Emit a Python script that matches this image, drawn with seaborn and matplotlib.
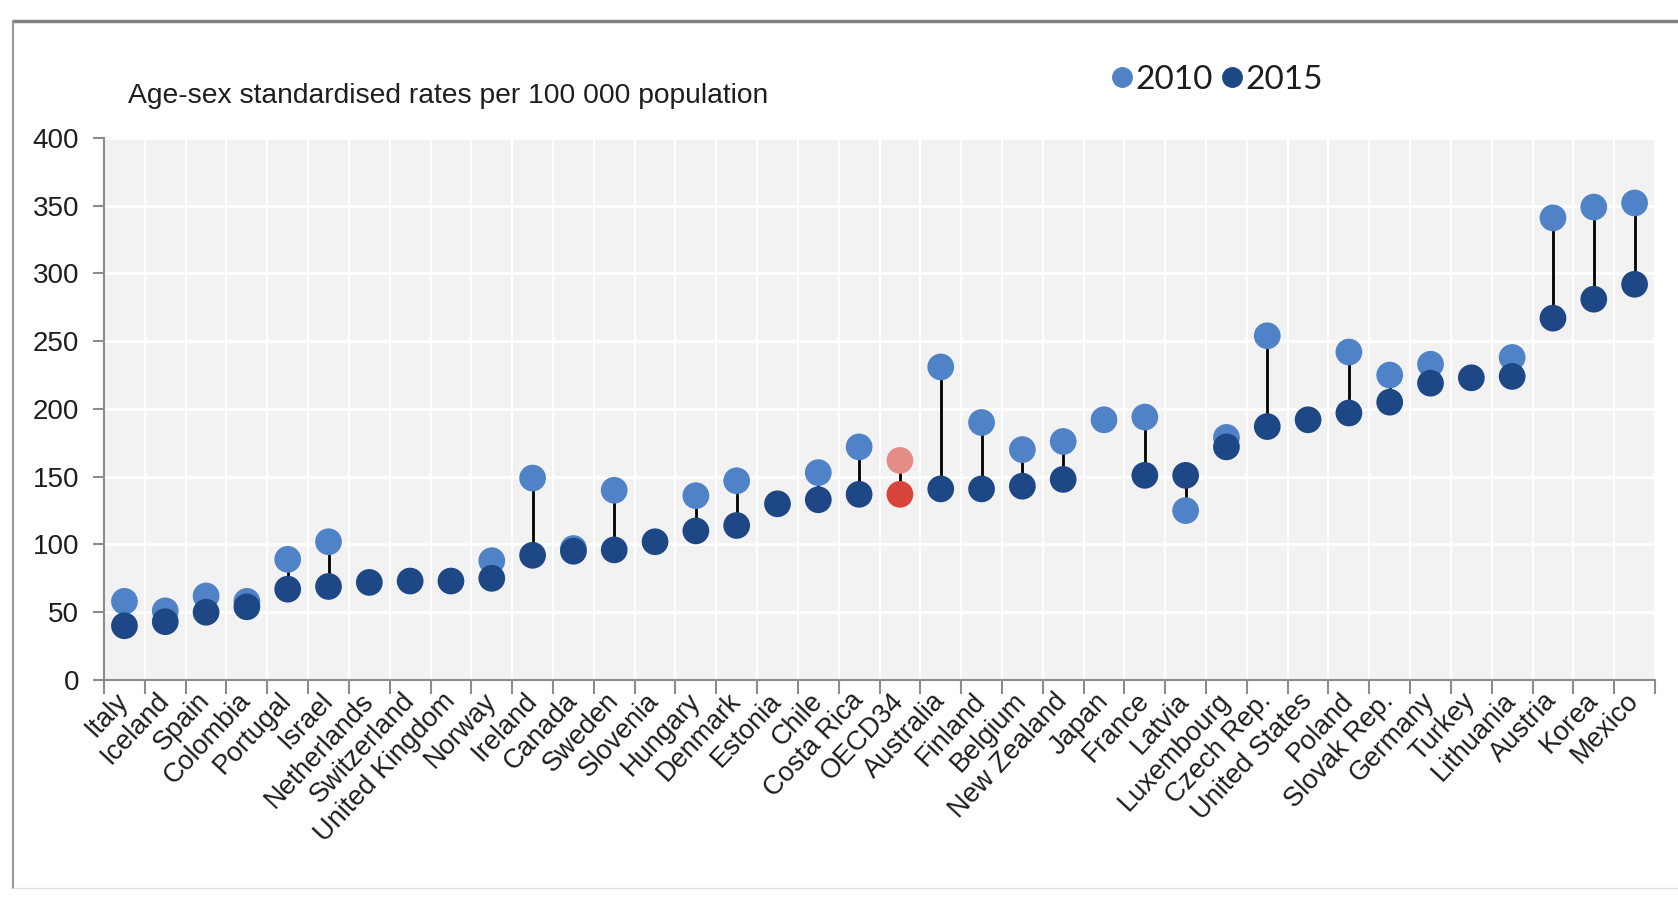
import numpy as np
import pandas as pd
import matplotlib
matplotlib.use("Agg")
import matplotlib.pyplot as plt
from matplotlib.lines import Line2D
import seaborn as sns

# Age-sex standardised rates per 100 000 population, by country
countries = [
    "Italy", "Iceland", "Spain", "Colombia", "Portugal", "Israel", "Netherlands",
    "Switzerland", "United Kingdom", "Norway", "Ireland", "Canada", "Sweden",
    "Slovenia", "Hungary", "Denmark", "Estonia", "Chile", "Costa Rica", "OECD34",
    "Australia", "Finland", "Belgium", "New Zealand", "Japan", "France", "Latvia",
    "Luxembourg", "Czech Rep.", "United States", "Poland", "Slovak Rep.", "Germany",
    "Turkey", "Lithuania", "Austria", "Korea", "Mexico",
]
rate_2010 = [
    58, 51, 62, 58, 89, 102, np.nan,
    np.nan, np.nan, 88, 149, 97, 140,
    np.nan, 136, 147, np.nan, 153, 172, 162,
    231, 190, 170, 176, 192, 194, 125,
    179, 254, np.nan, 242, 225, 233,
    np.nan, 238, 341, 349, 352,
]
rate_2015 = [
    40, 43, 50, 54, 67, 69, 72,
    73, 73, 75, 92, 95, 96,
    102, 110, 114, 130, 133, 137, 137,
    141, 141, 143, 148, np.nan, 151, 151,
    172, 187, 192, 197, 205, 219,
    223, 224, 267, 281, 292,
]
highlight = "OECD34"
y_ticks = [0, 50, 100, 150, 200, 250, 300, 350, 400]
subtitle = "Age-sex standardised rates per 100 000 population"

palette = {
    "2010": "#4f82c6",
    "2015": "#1d4885",
    "OECD 2010": "#e38c88",
    "OECD 2015": "#d8443c",
}

sns.set_theme(style="white")
plt.rcParams["font.family"] = ["Liberation Sans", "DejaVu Sans"]

pos = {c: i for i, c in enumerate(countries)}
df = pd.DataFrame({"country": countries, "2010": rate_2010, "2015": rate_2015})
long = df.melt(id_vars="country", var_name="year", value_name="rate").dropna()
long["pos"] = long["country"].map(pos)
long["group"] = np.where(long["country"] == highlight, "OECD " + long["year"], long["year"])

fig = plt.figure(figsize=(16.78, 8.98), dpi=100)
ax = fig.add_axes([0.062, 0.2428, 0.9243, 0.6036])
ax.set_facecolor("#f2f2f2")

# connectors between the two years
x = np.arange(len(countries))
ax.vlines(x, df["2010"], df["2015"], color="black", lw=2, zorder=2)

for year, z in (("2010", 3), ("2015", 4)):
    sub = long[long["year"] == year]
    sns.scatterplot(data=sub, x="pos", y="rate", hue="group", palette=palette,
                    s=370, linewidth=0, legend=False, zorder=z, ax=ax)

ax.set_xlim(-0.5, len(countries) - 0.5)
ax.set_ylim(0, 400)
ax.set_yticks(y_ticks)
ax.set_xticks(x)
ax.set_xticklabels(countries, rotation=47, ha="right", va="center",
                   rotation_mode="anchor")
ax.set_xticks(np.arange(-0.5, len(countries), 1), minor=True)
ax.set_xlabel("")
ax.set_ylabel("")

ax.set_axisbelow(True)
ax.grid(which="major", axis="y", color="white", lw=2)
ax.grid(which="minor", axis="x", color="white", lw=1.5)
ax.grid(which="major", axis="x", visible=False)

for side in ("top", "right"):
    ax.spines[side].set_visible(False)
for side in ("left", "bottom"):
    ax.spines[side].set_color("#8c8c8c")
    ax.spines[side].set_linewidth(1.5)

ax.tick_params(axis="x", which="major", length=0, pad=12, labelsize=19.5,
               labelcolor="#1e1e1e")
ax.tick_params(axis="x", which="minor", length=10, width=1.5, color="#8c8c8c",
               direction="out", bottom=True)
ax.tick_params(axis="y", length=8, width=1.5, color="#8c8c8c", direction="out",
               left=True, pad=10, labelsize=20, labelcolor="#1e1e1e")

fig.text(128 / 1678, 1 - 103 / 898, subtitle, fontsize=20.3, va="baseline",
         color="#1e1e1e")

handles = [Line2D([], [], marker="o", ls="", color=palette[k], markersize=14)
           for k in ("2010", "2015")]
fig.legend(handles, ["2010", "2015"], loc="center left",
           bbox_to_anchor=(1110 / 1678, 1 - 80 / 898), ncol=2, frameon=False,
           prop={"family": ["Lato", "DejaVu Sans"], "size": 24},
           handletextpad=0.05, columnspacing=0.25, handlelength=0.7,
           borderpad=0, borderaxespad=0, labelcolor="#1e1e1e")

# outer frame
fig.add_artist(Line2D([13 / 1678, 1.0], [1 - 21 / 898] * 2,
                      transform=fig.transFigure, color="#808080", lw=2.5))
fig.add_artist(Line2D([13 / 1678] * 2, [1 - 21 / 898, 1 - 888 / 898],
                      transform=fig.transFigure, color="#9a9a9a", lw=1.5))
fig.add_artist(Line2D([13 / 1678, 1.0], [1 - 888 / 898] * 2,
                      transform=fig.transFigure, color="#e2e2e2", lw=1))

fig.savefig("out.png", dpi=100, facecolor="white")
